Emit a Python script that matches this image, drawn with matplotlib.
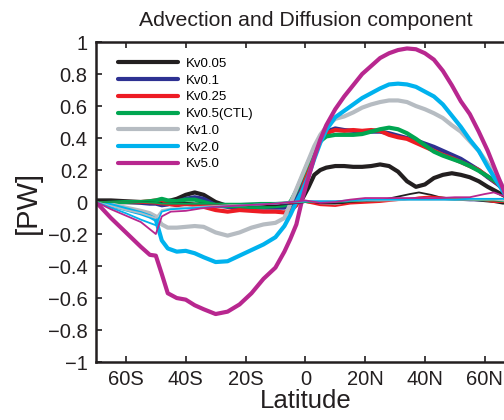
import matplotlib
matplotlib.use("Agg")
import matplotlib.pyplot as plt
from matplotlib.ticker import FixedLocator, FixedFormatter

plt.rcParams['font.family'] = ['Liberation Sans', 'DejaVu Sans']

# Latitude grid (negative = south)
lat = [-70, -65, -60, -55, -52, -50, -48, -46, -43, -40, -37, -34, -30, -26, -22,
       -18, -14, -10, -7, -5, -3, -1, 1, 3, 5, 7, 10, 13, 16, 19, 22, 25, 28, 31,
       34, 37, 40, 43, 46, 49, 52, 55, 58, 61, 64, 67, 70]

# Advection + diffusion heat transport [PW], one series per Kv experiment
kv005 = [0.01, 0.01, 0.005, 0.0, 0.0, 0.0, 0.0, 0.005, 0.02, 0.045, 0.06, 0.045, 0.0,
         -0.025, -0.03, -0.03, -0.03, -0.03, -0.03, -0.02, -0.01, 0.02, 0.09, 0.17,
         0.2, 0.215, 0.225, 0.225, 0.22, 0.22, 0.225, 0.235, 0.225, 0.19, 0.13, 0.095,
         0.11, 0.15, 0.17, 0.18, 0.17, 0.155, 0.13, 0.095, 0.065, 0.035, 0.02]
kv01 = [0.0, 0.0, 0.0, -0.005, -0.01, -0.01, -0.02, -0.015, 0.0, 0.02, 0.03, 0.02,
        -0.02, -0.03, -0.03, -0.035, -0.035, -0.035, -0.035, -0.02, 0.03, 0.12, 0.22,
        0.32, 0.4, 0.44, 0.46, 0.45, 0.445, 0.44, 0.44, 0.44, 0.43, 0.415, 0.4, 0.385,
        0.365, 0.345, 0.32, 0.295, 0.27, 0.235, 0.2, 0.155, 0.115, 0.07, 0.03]
kv025 = [0.0, 0.0, 0.0, 0.0, 0.005, 0.01, 0.015, -0.01, -0.02, -0.01, -0.02, -0.03,
         -0.05, -0.06, -0.05, -0.055, -0.06, -0.06, -0.065, -0.055, -0.02, 0.08, 0.2,
         0.31, 0.39, 0.43, 0.45, 0.445, 0.45, 0.445, 0.45, 0.445, 0.42, 0.405, 0.395,
         0.37, 0.345, 0.32, 0.295, 0.275, 0.25, 0.225, 0.2, 0.16, 0.12, 0.07, 0.03]
kv05 = [0.0, 0.0, 0.0, 0.0, 0.005, 0.01, 0.02, 0.01, 0.005, 0.015, 0.015, 0.0,
        -0.02, -0.025, -0.025, -0.03, -0.03, -0.025, -0.02, 0.0, 0.07, 0.16, 0.25,
        0.33, 0.38, 0.41, 0.42, 0.42, 0.42, 0.425, 0.44, 0.455, 0.465, 0.455, 0.43,
        0.395, 0.355, 0.315, 0.29, 0.27, 0.25, 0.225, 0.195, 0.16, 0.125, 0.07, 0.03]
kv10 = [0.0, -0.015, -0.035, -0.055, -0.07, -0.09, -0.14, -0.16, -0.16, -0.155,
        -0.15, -0.155, -0.19, -0.21, -0.19, -0.16, -0.14, -0.13, -0.1, -0.01, 0.08,
        0.17, 0.26, 0.35, 0.42, 0.47, 0.52, 0.535, 0.56, 0.59, 0.61, 0.625, 0.635,
        0.635, 0.625, 0.6, 0.58, 0.555, 0.525, 0.48, 0.44, 0.38, 0.32, 0.24, 0.16,
        0.07, 0.0]
kv20 = [0.0, -0.02, -0.045, -0.07, -0.09, -0.11, -0.24, -0.29, -0.31, -0.305,
        -0.32, -0.345, -0.375, -0.37, -0.335, -0.3, -0.265, -0.22, -0.15, -0.08,
        0.0, 0.07, 0.16, 0.27, 0.37, 0.45, 0.53, 0.57, 0.61, 0.65, 0.68, 0.71, 0.735,
        0.74, 0.735, 0.72, 0.69, 0.66, 0.61, 0.54, 0.47, 0.39, 0.32, 0.22, 0.13, 0.04,
        0.0]
kv50 = [0.0, -0.1, -0.19, -0.28, -0.33, -0.335, -0.45, -0.57, -0.6, -0.61, -0.645,
        -0.67, -0.7, -0.685, -0.64, -0.57, -0.48, -0.41, -0.31, -0.23, -0.14, 0.02,
        0.15, 0.28, 0.39, 0.48, 0.58, 0.66, 0.73, 0.8, 0.85, 0.9, 0.93, 0.95, 0.96,
        0.955, 0.93, 0.89, 0.82, 0.73, 0.63, 0.55, 0.44, 0.32, 0.18, 0.045, 0.0]

# Secondary (thin) transport curves on a coarser grid
lat_thin = [-70, -65, -60, -55, -50, -48, -45, -40, -35, -30, -25, -20, -15, -10,
            -5, 0, 5, 10, 15, 20, 25, 30, 35, 38, 42, 45, 50, 55, 60, 63, 66, 70]
kv005_thin = [0.01, 0.005, 0.0, 0.0, -0.005, -0.01, -0.01, -0.005, -0.01, -0.015,
              -0.02, -0.02, -0.02, -0.02, -0.01, 0.0, -0.01, -0.01, -0.005, 0.0, 0.01,
              0.03, 0.05, 0.06, 0.045, 0.03, 0.02, 0.015, 0.005, 0.0, -0.01, -0.01]
kv01_thin = [0.0, 0.0, 0.0, -0.005, -0.01, -0.015, -0.02, -0.02, -0.015, -0.015,
             -0.015, -0.01, -0.01, -0.01, -0.01, 0.0, 0.0, 0.0, 0.005, 0.01, 0.01,
             0.015, 0.02, 0.02, 0.02, 0.02, 0.015, 0.01, 0.01, 0.005, 0.0, 0.0]
kv025_thin = [0.0, 0.0, 0.0, -0.005, -0.01, -0.015, -0.02, -0.02, -0.02, -0.02,
              -0.02, -0.015, -0.015, -0.01, -0.005, 0.0, -0.02, -0.025, -0.01, -0.005,
              0.0, 0.01, 0.02, 0.03, 0.035, 0.03, 0.02, 0.02, 0.01, 0.0, 0.0, 0.0]
kv05_thin = [0.0, 0.0, 0.0, 0.0, -0.005, -0.01, -0.01, -0.01, -0.01, -0.01, -0.01,
             -0.01, -0.005, -0.005, 0.0, 0.0, 0.0, 0.0, 0.005, 0.01, 0.01, 0.015,
             0.02, 0.02, 0.02, 0.02, 0.015, 0.015, 0.01, 0.01, 0.005, 0.0]
kv10_thin = [0.0, -0.025, -0.05, -0.07, -0.1, -0.05, -0.04, -0.035, -0.03, -0.025,
             -0.02, -0.02, -0.015, -0.01, 0.0, 0.005, 0.005, 0.005, 0.01, 0.01, 0.01,
             0.01, 0.015, 0.015, 0.015, 0.015, 0.015, 0.015, 0.015, 0.015, 0.01, 0.0]
kv20_thin = [0.0, -0.035, -0.07, -0.11, -0.145, -0.06, -0.045, -0.04, -0.035, -0.03,
             -0.025, -0.02, -0.015, -0.01, 0.0, 0.005, 0.005, 0.005, 0.01, 0.015, 0.015,
             0.015, 0.015, 0.015, 0.015, 0.015, 0.015, 0.02, 0.02, 0.02, 0.02, 0.01]
kv50_thin = [0.0, -0.045, -0.085, -0.125, -0.2, -0.09, -0.06, -0.055, -0.04, -0.03,
             -0.025, -0.02, -0.015, -0.01, 0.0, 0.01, -0.005, 0.0, 0.015, 0.025, 0.025,
             0.025, 0.025, 0.025, 0.025, 0.025, 0.03, 0.03, 0.05, 0.06, 0.04, 0.01]

labels = ['Kv0.05', 'Kv0.1', 'Kv0.25', 'Kv0.5(CTL)', 'Kv1.0', 'Kv2.0', 'Kv5.0']
colors = ['#231f20', '#2e3192', '#ed1c24', '#00a651', '#b6bcc2', '#00b2ee', '#b8278f']
series = [kv005, kv01, kv025, kv05, kv10, kv20, kv50]
series_thin = [kv005_thin, kv01_thin, kv025_thin, kv05_thin, kv10_thin, kv20_thin,
               kv50_thin]

xticks = [-60, -40, -20, 0, 20, 40, 60]
xticklabels = ['60S', '40S', '20S', '0', '20N', '40N', '60N']
yticks = [-1, -0.8, -0.6, -0.4, -0.2, 0, 0.2, 0.4, 0.6, 0.8, 1]
yticklabels = ['\u22121', '\u22120.8', '\u22120.6', '\u22120.4', '\u22120.2', '0',
               '0.2', '0.4', '0.6', '0.8', '1']

fig = plt.figure(figsize=(5.04, 4.2), dpi=100)
ax = fig.add_axes([0.1905, 0.138, 0.8306, 0.7619])

for vals, c, lab in zip(series, colors, labels):
    ax.plot(lat, vals, color=c, lw=3.0, label=lab, solid_joinstyle='round',
            solid_capstyle='round')
for vals, c in zip(series_thin, colors):
    ax.plot(lat_thin, vals, color=c, lw=1.3, solid_joinstyle='round')

ax.set_xlim(-70, 70)
ax.set_ylim(-1, 1)
ax.xaxis.set_major_locator(FixedLocator(xticks))
ax.xaxis.set_major_formatter(FixedFormatter(xticklabels))
ax.yaxis.set_major_locator(FixedLocator(yticks))
ax.yaxis.set_major_formatter(FixedFormatter(yticklabels))
ax.tick_params(direction='in', length=4, width=1.2, labelsize=14.5, top=True,
               right=True, colors='#231f20')
ax.tick_params(axis='x', pad=6)
ax.tick_params(axis='y', pad=6)
for sp in ax.spines.values():
    sp.set_linewidth(1.8)
    sp.set_color('#231f20')

ax.set_title('Advection and Diffusion component', fontsize=15.3, pad=11.5,
             color='#231f20')
ax.set_xlabel('Latitude', fontsize=18.5, labelpad=0, color='#231f20')
ax.set_ylabel('[PW]', fontsize=21, labelpad=4, color='#231f20')

leg = ax.legend(loc='upper left', bbox_to_anchor=(0.053, 0.951), frameon=False,
                fontsize=9.5, handlelength=4.55, handletextpad=0.55, labelspacing=0.34,
                borderaxespad=0, borderpad=0)

fig.savefig('out.png', dpi=100)
